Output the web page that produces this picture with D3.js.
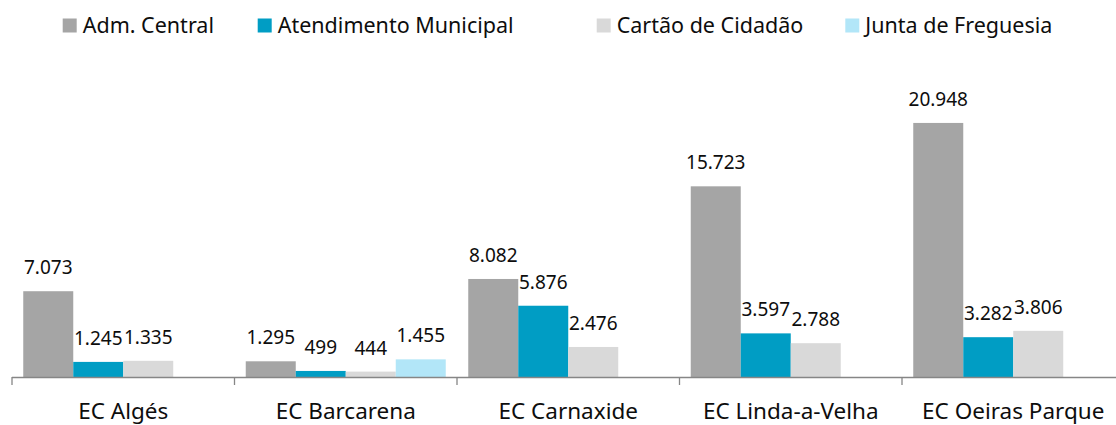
<!DOCTYPE html>
<html><head><meta charset="utf-8">
<script src="https://cdn.jsdelivr.net/npm/d3@7"></script>
<style>body{margin:0;background:#fff}svg{display:block}text{font-family:"Noto Sans",sans-serif;fill:#0d0d0d}</style>
</head><body><svg id="c" width="1116" height="425"></svg>
<script>
const categories = ["EC Algés","EC Barcarena","EC Carnaxide","EC Linda-a-Velha","EC Oeiras Parque"];
const series = ["Adm. Central","Atendimento Municipal","Cartão de Cidadão","Junta de Freguesia"];
const admCentral = [7073, 1295, 8082, 15723, 20948];
const atendimento = [1245, 499, 5876, 3597, 3282];
const cartao = [1335, 444, 2476, 2788, 3806];
const junta = [null, 1455, null, null, null];
const colors = ["#A5A5A5","#009DC4","#D9D9D9","#B2E6F8"];

const values = [admCentral, atendimento, cartao, junta];
const fmt = v => d3.format(",")(v).replace(/,/g, ".");

const svg = d3.select("#c");
const x0 = d3.scaleBand().domain(categories).range([12, 1124.5]).padding(0);
const x1 = d3.scaleBand().domain(series).range([0, x0.bandwidth()]).paddingInner(0).paddingOuter(0.225);
const y = d3.scaleLinear().domain([0, 25000]).range([377, 73.8]);

const data = [];
categories.forEach((c, i) => series.forEach((s, j) => {
  if (values[j][i] != null) data.push({c, s, v: values[j][i], j});
}));

svg.append("g").selectAll("rect").data(data).join("rect")
  .attr("x", d => x0(d.c) + x1(d.s))
  .attr("y", d => y(d.v))
  .attr("width", x1.bandwidth())
  .attr("height", d => y(0) - y(d.v))
  .attr("fill", d => colors[d.j]);

svg.append("g").selectAll("text").data(data).join("text")
  .attr("x", d => x0(d.c) + x1(d.s) + x1.bandwidth() / 2)
  .attr("y", d => y(d.v) - 17)
  .attr("text-anchor", "middle")
  .style("font-size", "19px")
  .text(d => fmt(d.v));

// axis
const ax = svg.append("g").attr("transform", `translate(0,${y(0)})`)
  .call(d3.axisBottom(x0).tickSize(0).tickFormat(""));
ax.select(".domain").attr("stroke", "#868686").attr("stroke-width", 1.3).attr("d", `M12,0.5H1116`);
const tickPos = categories.map(c => x0(c));
ax.selectAll(".tk").data(tickPos).join("line").attr("class", "tk")
  .attr("x1", d => d).attr("x2", d => d).attr("y1", 0).attr("y2", 8)
  .attr("stroke", "#868686").attr("stroke-width", 1.3);
svg.append("g").selectAll("text").data(categories).join("text")
  .attr("x", d => x0(d) + x0.bandwidth() / 2)
  .attr("y", 418.5)
  .attr("text-anchor", "middle")
  .style("font-size", "22.5px")
  .text(d => d);

// legend
const legendX = [62.7, 257.7, 596.7, 845.3];
const lg = svg.append("g").selectAll("g").data(series).join("g")
  .attr("transform", (d, i) => `translate(${legendX[i]},0)`);
lg.append("rect").attr("x", 0).attr("y", 18.5).attr("width", 14).attr("height", 14)
  .attr("fill", (d, i) => colors[i]);
lg.append("text").attr("x", 20).attr("y", 33).style("font-size", "21.5px").text(d => d);
</script></body></html>
